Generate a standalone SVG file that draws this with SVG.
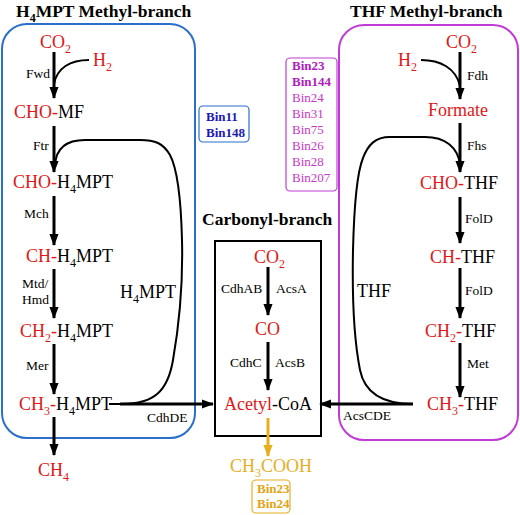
<svg xmlns="http://www.w3.org/2000/svg" width="520" height="515" viewBox="0 0 520 515">
<defs>
<marker id="ah" markerUnits="userSpaceOnUse" markerWidth="12" markerHeight="13" viewBox="0 0 13 10" refX="12" refY="5" orient="auto"><path d="M0,0 L13,5 L0,10 z" fill="#000"/></marker>
<marker id="aho" markerUnits="userSpaceOnUse" markerWidth="12" markerHeight="13" viewBox="0 0 13 10" refX="12" refY="5" orient="auto"><path d="M0,0 L13,5 L0,10 z" fill="#e8ae1e"/></marker>
</defs>

<g id="frames" fill="none" stroke-width="2">
<rect x="2" y="24" width="193" height="414" rx="25" stroke="#2a6fcc"/>
<rect x="339" y="25" width="179" height="415" rx="25" stroke="#c13cd6"/>
<rect x="215" y="241" width="106" height="195" stroke="#000"/>
</g>

<g id="titles" font-family="Liberation Serif" font-size="17.5" font-weight="bold" fill="#000">
<text font-family="Liberation Serif" x="16" y="17">H<tspan font-size="12" dy="5">4</tspan><tspan dy="-5">MPT Methyl-branch</tspan></text>
<text font-family="Liberation Serif" x="350" y="17">THF Methyl-branch</text>
<text font-family="Liberation Serif" x="202" y="225">Carbonyl-branch</text>
</g>

<g id="bins" font-family="Liberation Serif" font-size="13">
<g id="bin-blue">
<rect x="199" y="106" width="50" height="36" rx="4" fill="none" stroke="#2a6fcc" stroke-width="1.2"/>
<text font-family="Liberation Serif" font-weight="bold" fill="#1a1ab4" x="206" y="121">Bin11</text>
<text font-family="Liberation Serif" font-weight="bold" fill="#1a1ab4" x="206" y="137">Bin148</text>
</g>
<g id="bin-magenta">
<rect x="286" y="58" width="51" height="133" rx="4" fill="none" stroke="#c13cd6" stroke-width="1.2"/>
<text font-family="Liberation Serif" font-weight="bold" fill="#b020c0" x="292" y="70">Bin23</text>
<text font-family="Liberation Serif" font-weight="bold" fill="#b020c0" x="292" y="86">Bin144</text>
<text font-family="Liberation Serif" fill="#c838c8" x="292" y="102">Bin24</text>
<text font-family="Liberation Serif" fill="#c838c8" x="292" y="118">Bin31</text>
<text font-family="Liberation Serif" fill="#c838c8" x="292" y="134">Bin75</text>
<text font-family="Liberation Serif" fill="#c838c8" x="292" y="150">Bin26</text>
<text font-family="Liberation Serif" fill="#c838c8" x="292" y="166">Bin28</text>
<text font-family="Liberation Serif" fill="#c838c8" x="292" y="182">Bin207</text>
</g>
<g id="bin-orange">
<rect x="252" y="480" width="38" height="33" rx="4" fill="none" stroke="#e8ae1e" stroke-width="1.2"/>
<text font-family="Liberation Serif" font-weight="bold" fill="#e0a418" x="257" y="493">Bin23</text>
<text font-family="Liberation Serif" font-weight="bold" fill="#e0a418" x="257" y="508">Bin24</text>
</g>
</g>

<g id="connectors" fill="none" stroke="#000">
<g stroke-width="3">
<path d="M54,52 L54,98" marker-end="url(#ah)"/>
<path d="M54,126 L54,172" marker-end="url(#ah)"/>
<path d="M54,196 L54,245" marker-end="url(#ah)"/>
<path d="M54,269 L54,318" marker-end="url(#ah)"/>
<path d="M54,344 L54,394" marker-end="url(#ah)"/>
<path d="M54,417 L54,455" marker-end="url(#ah)"/>
<path d="M120,404 L213,404" marker-end="url(#ah)"/>
<path d="M460,52 L460,99" marker-end="url(#ah)"/>
<path d="M460,123 L460,172" marker-end="url(#ah)"/>
<path d="M460,197 L460,243" marker-end="url(#ah)"/>
<path d="M460,268 L460,318" marker-end="url(#ah)"/>
<path d="M460,343 L460,397" marker-end="url(#ah)"/>
<path d="M413,404 L320,404" marker-end="url(#ah)"/>
<path d="M268,267 L268,315" marker-end="url(#ah)"/>
<path d="M268,342 L268,390" marker-end="url(#ah)"/>
<path d="M268,418 L268,456" stroke="#e8ae1e" marker-end="url(#aho)"/>
</g>
<g stroke-width="2">
<path d="M89,60 C70,60 57,68 54,84"/>
<path d="M122,404 C155,404 168,390 173,360 C180,320 183,280 182,240 C181,200 178,170 170,155 C163,143 155,140 140,140 L85,140 C65,140 56,150 55,165"/>
<path d="M109,404 L122,404"/>
<path d="M421,60 C440,60 456,68 460,86"/>
<path d="M413,404 C385,404 365,395 360,370 C354,340 352,300 353,250 C354,210 356,175 363,158 C368,145 375,137 390,137 L425,137 C445,137 458,147 460,165"/>
</g>
</g>

<g id="enzymes" font-family="Liberation Serif" font-size="13.5" fill="#000">
<text font-family="Liberation Serif" x="26" y="78">Fwd</text>
<text font-family="Liberation Serif" x="33" y="150">Ftr</text>
<text font-family="Liberation Serif" x="24" y="218">Mch</text>
<text font-family="Liberation Serif" x="22" y="288">Mtd/</text>
<text font-family="Liberation Serif" x="22" y="304">Hmd</text>
<text font-family="Liberation Serif" x="26" y="370">Mer</text>
<text font-family="Liberation Serif" x="147" y="422">CdhDE</text>
<text font-family="Liberation Serif" x="467" y="80">Fdh</text>
<text font-family="Liberation Serif" x="467" y="150">Fhs</text>
<text font-family="Liberation Serif" x="465" y="223">FolD</text>
<text font-family="Liberation Serif" x="465" y="295">FolD</text>
<text font-family="Liberation Serif" x="467" y="368">Met</text>
<text font-family="Liberation Serif" x="343" y="420">AcsCDE</text>
<text font-family="Liberation Serif" x="221" y="293">CdhAB</text>
<text font-family="Liberation Serif" x="276" y="293">AcsA</text>
<text font-family="Liberation Serif" x="230" y="367">CdhC</text>
<text font-family="Liberation Serif" x="275" y="367">AcsB</text>
</g>

<g id="nodes" font-family="Liberation Serif" font-size="18" fill="#000">
<g id="carrier-h4mpt"><text font-family="Liberation Serif" x="120" y="298">H<tspan font-size="12" dy="5">4</tspan><tspan dy="-5">MPT</tspan></text></g>
<g id="carrier-thf"><text font-family="Liberation Serif" x="357" y="297">THF</text></g>

<g id="node-co2-left"><text font-family="Liberation Serif" fill="#e01818" x="40" y="48">CO<tspan font-size="12" dy="5">2</tspan></text></g>
<g id="node-h2-left"><text font-family="Liberation Serif" fill="#e01818" x="93" y="66">H<tspan font-size="12" dy="5">2</tspan></text></g>
<g id="node-cho-mf"><text font-family="Liberation Serif" x="14" y="118"><tspan fill="#e01818">CHO-</tspan>MF</text></g>
<g id="node-cho-h4mpt"><text font-family="Liberation Serif" x="13" y="188"><tspan fill="#e01818">CHO-</tspan>H<tspan font-size="12" dy="5">4</tspan><tspan dy="-5">MPT</tspan></text></g>
<g id="node-ch-h4mpt"><text font-family="Liberation Serif" x="26" y="262"><tspan fill="#e01818">CH-</tspan>H<tspan font-size="12" dy="5">4</tspan><tspan dy="-5">MPT</tspan></text></g>
<g id="node-ch2-h4mpt"><text font-family="Liberation Serif" x="20" y="337"><tspan fill="#e01818">CH</tspan><tspan fill="#e01818" font-size="12" dy="5">2</tspan><tspan fill="#e01818" dy="-5">-</tspan>H<tspan font-size="12" dy="5">4</tspan><tspan dy="-5">MPT</tspan></text></g>
<g id="node-ch3-h4mpt"><text font-family="Liberation Serif" x="19" y="410"><tspan fill="#e01818">CH</tspan><tspan fill="#e01818" font-size="12" dy="5">3</tspan><tspan fill="#e01818" dy="-5">-</tspan>H<tspan font-size="12" dy="5">4</tspan><tspan dy="-5">MPT</tspan></text></g>
<g id="node-ch4"><text font-family="Liberation Serif" fill="#e01818" x="38" y="476">CH<tspan font-size="12" dy="5">4</tspan></text></g>

<g id="node-co2-right"><text font-family="Liberation Serif" fill="#e01818" x="446" y="48">CO<tspan font-size="12" dy="5">2</tspan></text></g>
<g id="node-h2-right"><text font-family="Liberation Serif" fill="#e01818" x="398" y="66">H<tspan font-size="12" dy="5">2</tspan></text></g>
<g id="node-formate"><text font-family="Liberation Serif" fill="#e01818" x="428" y="116">Formate</text></g>
<g id="node-cho-thf"><text font-family="Liberation Serif" x="420" y="189"><tspan fill="#e01818">CHO-</tspan>THF</text></g>
<g id="node-ch-thf"><text font-family="Liberation Serif" x="430" y="263"><tspan fill="#e01818">CH-</tspan>THF</text></g>
<g id="node-ch2-thf"><text font-family="Liberation Serif" x="425" y="337"><tspan fill="#e01818">CH</tspan><tspan fill="#e01818" font-size="12" dy="5">2</tspan><tspan fill="#e01818" dy="-5">-</tspan>THF</text></g>
<g id="node-ch3-thf"><text font-family="Liberation Serif" x="427" y="410"><tspan fill="#e01818">CH</tspan><tspan fill="#e01818" font-size="12" dy="5">3</tspan><tspan fill="#e01818" dy="-5">-</tspan>THF</text></g>

<g id="node-co2-mid"><text font-family="Liberation Serif" fill="#e01818" x="254" y="263">CO<tspan font-size="12" dy="5">2</tspan></text></g>
<g id="node-co"><text font-family="Liberation Serif" fill="#e01818" x="255" y="335">CO</text></g>
<g id="node-acetyl-coa"><text font-family="Liberation Serif" x="224" y="410"><tspan fill="#e01818">Acetyl</tspan>-CoA</text></g>
<g id="node-acetate"><text font-family="Liberation Serif" fill="#e8ae1e" x="230" y="472">CH<tspan font-size="12" dy="5">3</tspan><tspan dy="-5">COOH</tspan></text></g>
</g>
</svg>
